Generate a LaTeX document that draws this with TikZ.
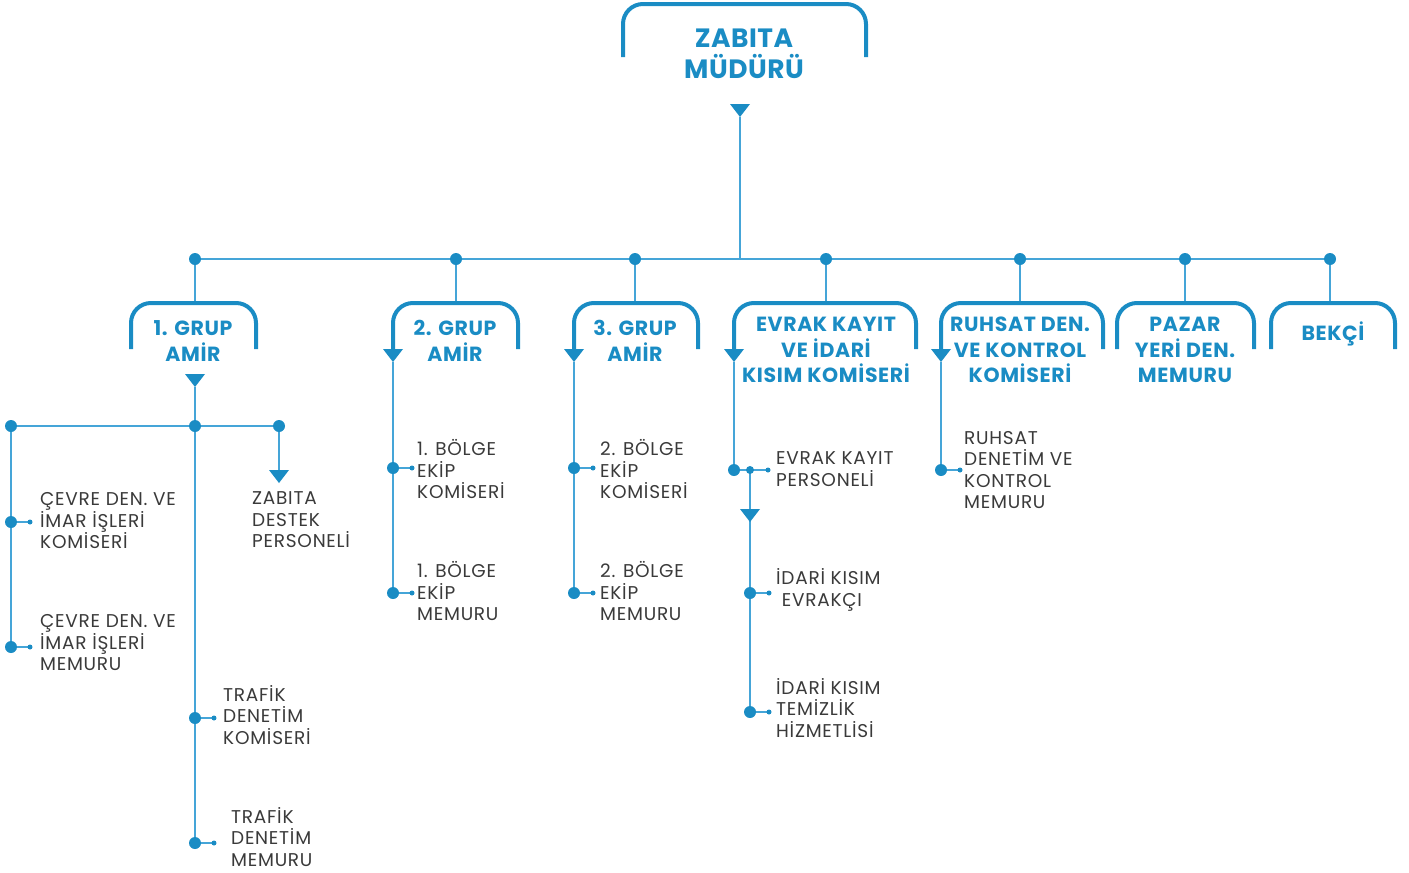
\documentclass[tikz,border=0pt]{standalone}
\usepackage{fontspec}
\setmainfont{Poppins}
\definecolor{bl}{HTML}{1A8CC4}
\definecolor{lnc}{HTML}{45A5D8}
\definecolor{tx}{HTML}{3A3A3A}
\pgfdeclarelayer{background}
\pgfsetlayers{background,main}
\newcommand\downtri[2]{\fill[bl] (#1-10,#2) -- (#1+10,#2) -- (#1,#2+13) -- cycle;}
\begin{document}
\begin{tikzpicture}[x=1pt,y=-1pt,
 bx/.style={draw=bl, line width=4pt, rounded corners=20pt},
 ttl/.style={text=bl, font=\bfseries\fontsize{20.5}{25.5}\selectfont\addfontfeature{LetterSpace=3}, align=center, inner sep=0pt},
 lf/.style={text=tx, font=\fontsize{18.5}{21.5}\selectfont\addfontfeature{LetterSpace=4}, align=left, anchor=west, inner sep=0pt},
 thin/.style={draw=lnc, line width=1.5pt},
 mid/.style={draw=lnc, line width=2pt},
 bigdot/.style={circle, fill=bl, inner sep=0pt, minimum size=12pt},
 smalldot/.style={circle, fill=bl, inner sep=0pt, minimum size=5pt},
 meddot/.style={circle, fill=bl, inner sep=0pt, minimum size=8pt}]
\useasboundingbox (0,0) rectangle (1409,873);

% top box
\draw[bx] (623,57) -- (623,4) -- (866,4) -- (866,57);
\node[ttl, font=\bfseries\fontsize{26.5}{31.5}\selectfont\addfontfeature{LetterSpace=2}] (top) at (744,54) {ZABITA\\MÜDÜRÜ};
\downtri{740}{104}
\coordinate (topa) at (740,117);
\coordinate (bus) at (740,259);

% bus dots
\foreach \n/\x in {g1/195,g2/456,g3/635,ev/826,ru/1020,pa/1185,be/1330}{
  \node[bigdot] (d\n) at (\x,259) {};
  \coordinate (t\n) at (\x,303);
}

% sub boxes
\draw[bx] (131,349) -- (131,303) -- (256,303) -- (256,349);
\node[ttl] (b1) at (193,341) {1. GRUP\\AMİR};
\draw[bx] (393,349) -- (393,303) -- (518,303) -- (518,349);
\node[ttl] (b2) at (455,341) {2. GRUP\\AMİR};
\draw[bx] (574,349) -- (574,303) -- (698,303) -- (698,349);
\node[ttl] (b3) at (635,341) {3. GRUP\\AMİR};
\draw[bx] (734,349) -- (734,303) -- (916,303) -- (916,349);
\node[ttl] (b4) at (826,350) {EVRAK KAYIT\\VE İDARİ\\KISIM KOMİSERİ};
\draw[bx] (941,349) -- (941,303) -- (1103,303) -- (1103,349);
\node[ttl] (b5) at (1020,350) {RUHSAT DEN.\\VE KONTROL\\KOMİSERİ};
\draw[bx] (1117,349) -- (1117,303) -- (1254,303) -- (1254,349);
\node[ttl] (b6) at (1185,350) {PAZAR\\YERİ DEN.\\MEMURU};
\draw[bx] (1271,349) -- (1271,303) -- (1395,303) -- (1395,349);
\node[ttl] (b7) at (1333,334) {BEKÇİ};

% group 1
\downtri{195}{374}
\coordinate (g1a) at (195,387);
\node[bigdot] (h1) at (11,426) {};
\node[bigdot] (h2) at (195,426) {};
\node[bigdot] (h3) at (279,426) {};
\coordinate (h3e) at (279,470);
\downtri{279}{470}
\node[lf, anchor=west] (zd) at (252,520) {ZABITA\\DESTEK\\PERSONELİ};
\node[bigdot] (l1) at (11,522) {};
\node[bigdot] (l2) at (11,647) {};
\node[bigdot] (l3) at (195,718) {};
\node[bigdot] (l4) at (195,843) {};

% group 2,3
\downtri{393}{349}
\coordinate (g2a) at (393,362);
\node[bigdot] (l5) at (393,468) {};
\node[bigdot] (l6) at (393,593) {};
\downtri{574}{349}
\coordinate (g3a) at (574,362);
\node[bigdot] (l7) at (574,468) {};
\node[bigdot] (l8) at (574,593) {};

% evrak
\downtri{734}{349}
\coordinate (g4a) at (734,362);
\node[bigdot] (e0) at (734,470) {};
\node[meddot] (em) at (750,470) {};
\node[smalldot] (es) at (768,470) {};
\node[bigdot] (l9) at (750,593) {};
\node[bigdot] (l10) at (750,712) {};
\downtri{750}{509}

% ruhsat
\downtri{941}{349}
\coordinate (g5a) at (941,362);
\node[bigdot] (l11) at (941,470) {};

% leaf small dots
\foreach \l in {l1,l2,l3,l4,l5,l6,l7,l8,l9,l10,l11}{
  \node[smalldot] (s\l) at ([xshift=19pt]\l.center) {};
}

% connectors (behind)
\begin{pgfonlayer}{background}
\draw[thin] (topa) -- (bus);
\draw[thin] (dg1.center) -- (dbe.center);
\foreach \n in {g1,g2,g3,ev,ru,pa,be}{\draw[thin] (d\n.center) -- (t\n);}
\draw[thin] (g1a) -- (h2.center);
\draw[mid] (h1.center) -- (h3.center);
\draw[mid] (h3.center) -- (h3e);
\draw[mid] (h1.center) -- (l2.center);
\draw[mid] (h2.center) -- (l4.center);
\draw[mid] (g2a) -- (l6.center);
\draw[mid] (g3a) -- (l8.center);
\draw[mid] (g4a) -- (e0.center);
\draw[thin] (e0.center) -- (es.center);
\draw[mid] (em.center) -- (l10.center);
\draw[mid] (g5a) -- (l11.center);
\foreach \l in {l1,l2,l3,l4,l5,l6,l7,l8,l9,l10,l11}{\draw[thin] (\l.center) -- (s\l.center);}
\end{pgfonlayer}

% leaf texts
\node[lf] (x1) at (40,521) {ÇEVRE DEN. VE\\İMAR İŞLERİ\\KOMİSERİ};
\node[lf] (x2) at (40,643) {ÇEVRE DEN. VE\\İMAR İŞLERİ\\MEMURU};
\node[lf] (x3) at (223,715) {TRAFİK\\DENETİM\\KOMİSERİ};
\node[lf] (x4) at (231,837) {TRAFİK\\DENETİM\\MEMURU};
\node[lf] (x5) at (417,469) {1. BÖLGE\\EKİP\\KOMİSERİ};
\node[lf] (x6) at (417,591) {1. BÖLGE\\EKİP\\MEMURU};
\node[lf] (x7) at (600,469) {2. BÖLGE\\EKİP\\KOMİSERİ};
\node[lf] (x8) at (600,591) {2. BÖLGE\\EKİP\\MEMURU};
\node[lf] (x9) at (776,469) {EVRAK KAYIT\\PERSONELİ};
\node[lf] (x10) at (776,590) {İDARİ KISIM\\\ EVRAKÇI};
\node[lf] (x11) at (776,708) {İDARİ KISIM\\TEMİZLİK\\HİZMETLİSİ};
\node[lf] (x12) at (964,470) {RUHSAT\\DENETİM VE\\KONTROL\\MEMURU};
\end{tikzpicture}
\end{document}
